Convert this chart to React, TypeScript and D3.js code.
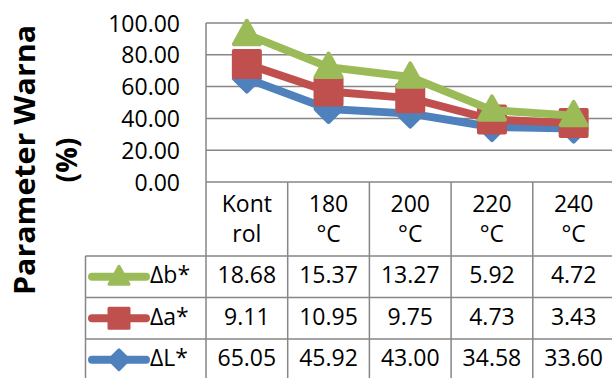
import React from "react";
import * as d3 from "d3";

const categories = ["Kontrol", "180 °C", "200 °C", "220 °C", "240 °C"];
const headerLines = [["Kont", "rol"], ["180", "°C"], ["200", "°C"], ["220", "°C"], ["240", "°C"]];
const dL = [65.05, 45.92, 43.0, 34.58, 33.6];
const dA = [9.11, 10.95, 9.75, 4.73, 3.43];
const dB = [18.68, 15.37, 13.27, 5.92, 4.72];
const yTicks = [0, 20, 40, 60, 80, 100];

const FONT = "'Open Sans', 'Liberation Sans', sans-serif";
const GRID = "#868686";
const FS = 23;

type Series = { name: string; values: number[]; color: string; marker: "diamond" | "square" | "triangle" };
const seriesList: Series[] = [
  { name: "ΔL*", values: dL, color: "#4F81BD", marker: "diamond" },
  { name: "Δa*", values: dA, color: "#C0504D", marker: "square" },
  { name: "Δb*", values: dB, color: "#9BBB59", marker: "triangle" },
];

function markerPath(kind: string, s: number) {
  if (kind === "diamond") return `M0,${-s}L${s},0L0,${s}L${-s},0Z`;
  if (kind === "square") return `M${-s},${-s}L${s},${-s}L${s},${s}L${-s},${s}Z`;
  return `M0,${-s * 1.05}L${s},${s * 0.75}L${-s},${s * 0.75}Z`;
}

export default function App() {
  const W = 612, H = 378;
  const plotLeft = 206, plotRight = 614.5, plotTop = 23, plotBottom = 182;
  const x = d3.scaleBand<string>().domain(categories).range([plotLeft, plotRight]);
  const y = d3.scaleLinear().domain([0, 100]).range([plotBottom, plotTop]);
  const bw = x.bandwidth();

  const stack = d3.stack<number>().keys([0, 1, 2] as any).value((d: any, k: any) => seriesList[k].values[d]);
  const stacked = stack(categories.map((_, i) => i) as any);

  const headerBottom = 256;
  const rowEdges = [256, 297.5, 339, 380.5];
  const legendLeft = 85.5;
  const tableRows = [seriesList[2], seriesList[1], seriesList[0]];

  const line = d3.line<[number, number]>().x((d) => d[0]).y((d) => d[1]);

  return (
    <svg width={W} height={H} style={{ position: "absolute", left: 0, top: 0, background: "#fff" }}>
      {yTicks.map((t) => (
        <line key={t} x1={plotLeft} x2={W} y1={y(t)} y2={y(t)} stroke={GRID} strokeWidth={1.5} />
      ))}
      <line x1={plotLeft} x2={plotLeft} y1={plotTop} y2={rowEdges[3]} stroke={GRID} strokeWidth={1.5} />
      {yTicks.map((t) => (
        <text key={t} x={180} y={y(t) + 8.5} textAnchor="end" fontFamily={FONT} fontSize={FS} fill="#000">
          {t.toFixed(2)}
        </text>
      ))}
      <text transform={`translate(35,160) rotate(-90)`} textAnchor="middle" fontFamily={FONT} fontWeight="bold" fontSize={28.5} fill="#000" textLength={270} lengthAdjust="spacingAndGlyphs">
        Parameter Warna
      </text>
      <text transform={`translate(77,160) rotate(-90)`} textAnchor="middle" fontFamily={FONT} fontWeight="bold" fontSize={28.5} fill="#000">
        (%)
      </text>

      {categories.map((c) => (
        <line key={c} x1={(x(c) as number) + bw} x2={(x(c) as number) + bw} y1={plotBottom} y2={rowEdges[3]} stroke={GRID} strokeWidth={1.5} />
      ))}
      {rowEdges.map((r) => (
        <line key={r} x1={legendLeft} x2={W} y1={r} y2={r} stroke={GRID} strokeWidth={1.5} />
      ))}
      <line x1={legendLeft} x2={legendLeft} y1={headerBottom} y2={rowEdges[3]} stroke={GRID} strokeWidth={1.5} />

      {categories.map((c, i) => (
        <g key={c}>
          {headerLines[i].map((l, j) => (
            <text key={j} x={(x(c) as number) + bw / 2} y={plotBottom + 30 + j * 30} textAnchor="middle" fontFamily={FONT} fontSize={FS} fill="#000">
              {l}
            </text>
          ))}
        </g>
      ))}

      {tableRows.map((s, r) => {
        const top = rowEdges[r];
        const cy = (rowEdges[r] + rowEdges[r + 1]) / 2;
        return (
          <g key={s.name}>
            <line x1={92} x2={146} y1={cy} y2={cy} stroke={s.color} strokeWidth={8} strokeLinecap="round" />
            <path d={markerPath(s.marker, 10)} transform={`translate(119,${cy})`} fill={s.color} stroke={s.color} strokeWidth={3} strokeLinejoin="round" />
            <text x={150} y={top + 27} fontFamily={FONT} fontSize={FS} fill="#000">
              {s.name}
            </text>
            {categories.map((c, i) => (
              <text key={c} x={(x(c) as number) + bw / 2} y={top + 27} textAnchor="middle" fontFamily={FONT} fontSize={FS} fill="#000">
                {s.values[i].toFixed(2)}
              </text>
            ))}
          </g>
        );
      })}

      {seriesList.map((s, k) => {
        const pts: [number, number][] = categories.map((c, i) => [
          (x(c) as number) + bw / 2,
          y((stacked as any)[k][i][1]),
        ]);
        return (
          <g key={s.name}>
            <path d={line(pts) as string} fill="none" stroke={s.color} strokeWidth={8} strokeLinejoin="round" />
            {pts.map((p, i) => (
              <path key={i} d={markerPath(s.marker, 13)} transform={`translate(${p[0]},${p[1]})`} fill={s.color} stroke={s.color} strokeWidth={4} strokeLinejoin="round" />
            ))}
          </g>
        );
      })}
    </svg>
  );
}
